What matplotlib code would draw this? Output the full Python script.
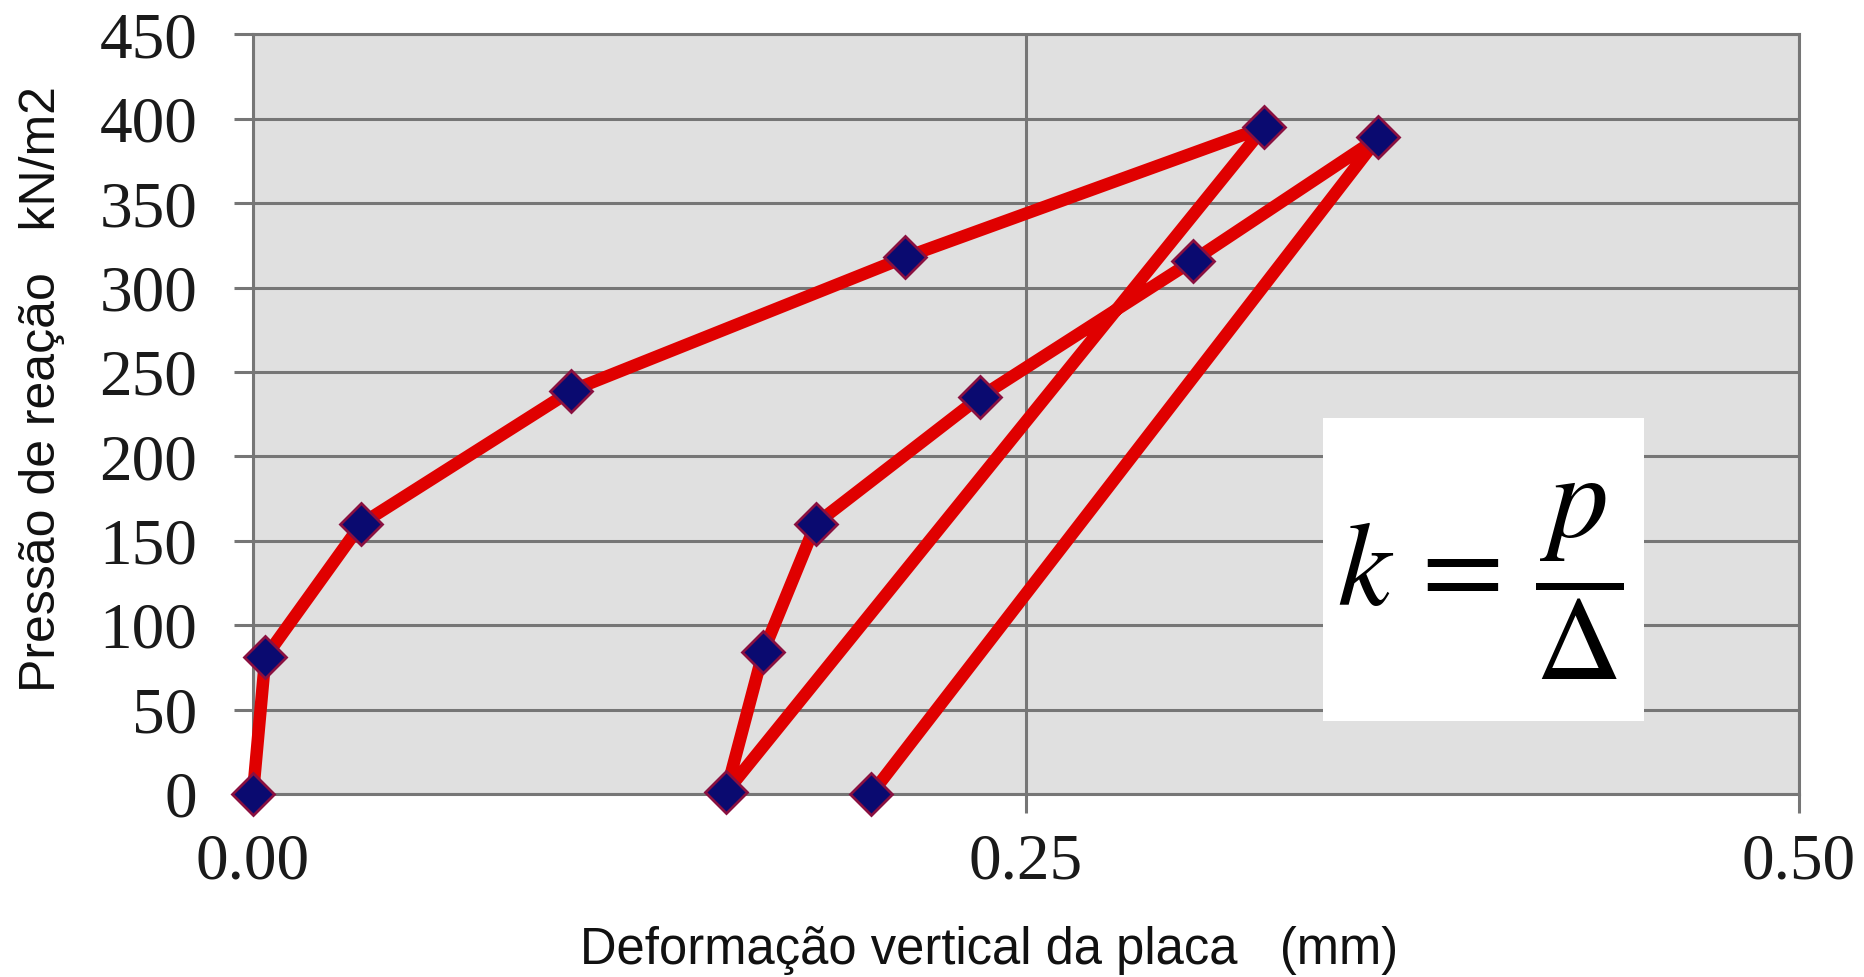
import matplotlib
matplotlib.use("Agg")
import matplotlib.pyplot as plt
from matplotlib.patches import Rectangle

# Data (deformation in mm, pressure in kN/m2)
deformacao = [0.0, 0.004, 0.035, 0.103, 0.211, 0.327, 0.153, 0.165, 0.182, 0.235, 0.304, 0.364, 0.200]
pressao = [0, 81, 160, 239, 318, 395, 1, 84, 160, 235, 316, 389, 0]

x_ticks = [0.0, 0.25, 0.50]
x_ticklabels = ["0.00", "0.25", "0.50"]
y_ticks = list(range(0, 451, 50))

fig = plt.figure(figsize=(18.64, 9.77), dpi=100)
ax = fig.add_axes([0.1357, 0.1873, 0.8294, 0.7774])
ax.set_facecolor("#e0e0e0")

ax.set_xlim(0, 0.5)
ax.set_ylim(0, 450)

grid_c = "#767676"
for s in ax.spines.values():
    s.set_color(grid_c)
    s.set_linewidth(2.2)

ax.set_yticks(y_ticks)
ax.set_xticks(x_ticks)
ax.set_xticklabels(x_ticklabels)
ax.yaxis.grid(True, color=grid_c, linewidth=2.2)
ax.xaxis.grid(True, color=grid_c, linewidth=2.2)
ax.set_axisbelow(True)

ax.tick_params(axis="both", direction="out", length=14, width=2.2, color=grid_c,
               labelsize=47, labelcolor="#1a1a1a")
ax.tick_params(axis="y", pad=26)
ax.tick_params(axis="x", pad=14)
for lab in ax.get_xticklabels() + ax.get_yticklabels():
    lab.set_fontfamily("Liberation Serif")

ax.plot(deformacao, pressao, color="#e00000", linewidth=9, marker="D",
        markersize=21, markerfacecolor="#0a0a70", markeredgecolor="#8a1040",
        markeredgewidth=2, zorder=3, clip_on=False)

# Formula box
ax.add_patch(Rectangle((0.346, 43), 0.104, 180, facecolor="white", edgecolor="none", zorder=4))
ax.text(0.397, 126, r"$k\,=\,\dfrac{p}{\Delta}$", fontsize=86, ha="center", va="center",
        zorder=5, math_fontfamily="stix")

fig.text(0.5305, 0.027, "Deformação vertical da placa   (mm)", ha="center", va="center",
         fontsize=36.5, family="Liberation Sans", color="#111111")
fig.text(0.0225, 0.602, "Pressão de reação   kN/m2", ha="center", va="center",
         rotation=90, fontsize=36, family="Liberation Sans", color="#111111")

fig.savefig("out.png", dpi=100)
